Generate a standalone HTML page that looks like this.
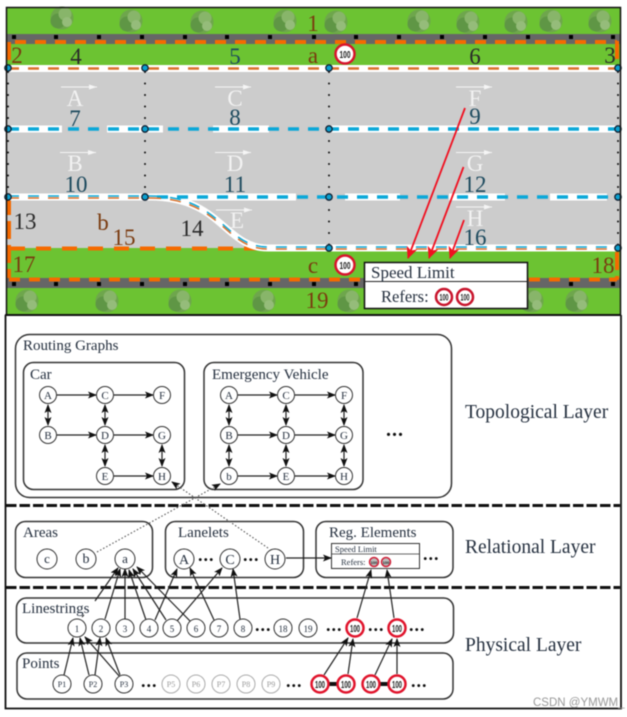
<!DOCTYPE html>
<html><head><meta charset="utf-8"><style>
html,body{margin:0;padding:0;background:#fff}
svg{display:block;filter:blur(.5px)}
text{font-family:"Liberation Serif",serif;fill:#25303f}
.n{font-size:11px;text-anchor:middle}
.e{stroke:#222;stroke-width:1.2;fill:none;marker-end:url(#a)}
.b{stroke:#222;stroke-width:1.2;fill:none;marker-end:url(#a);marker-start:url(#s)}
.box{fill:#fff;stroke:#333;stroke-width:1.5}
.c{fill:#fff;stroke:#333;stroke-width:1}
.big{font-size:23px;text-anchor:middle;fill:#2a2a2a}
.bl{fill:#1d4a5e}
.or{fill:#7a3b10}
.w{font-size:23px;text-anchor:middle;fill:#f2f2f2}
.wa{stroke:#f5f5f5;stroke-width:1;fill:#f5f5f5}
.sg{font-family:"Liberation Sans",sans-serif;font-weight:bold;text-anchor:middle;fill:#222}
.t{font-size:15px}
.l{font-size:19.500px}
.dots{font-size:18px;font-weight:bold;letter-spacing:1px;fill:#111}
</style></head><body>
<svg width="627" height="717" viewBox="0 0 627 717" xmlns="http://www.w3.org/2000/svg">
<defs>
<marker id="a" markerWidth="9" markerHeight="7" refX="8" refY="3.5" orient="auto" markerUnits="userSpaceOnUse"><path d="M0 0L9 3.5L0 7L2 3.5Z" fill="#111"/></marker>
<marker id="s" markerWidth="9" markerHeight="7" refX="1" refY="3.5" orient="auto" markerUnits="userSpaceOnUse"><path d="M9 0L0 3.5L9 7L7 3.5Z" fill="#111"/></marker>
<marker id="r" markerWidth="12" markerHeight="11" refX="11" refY="5.5" orient="auto" markerUnits="userSpaceOnUse"><path d="M0 0L12 5.5L0 11L3 5.5Z" fill="#f01020"/></marker>
<g id="t"><circle r="11.500" fill="#6ea64c"/><circle cx="-4" cy="3" r="7.500" fill="#5f9645"/><circle cx="3" cy="-4" r="6.500" fill="#88b56a"/><circle cx="5" cy="4" r="5" fill="#95bc7a"/></g>
</defs>
<rect width="627" height="717" fill="#fff"/>
<!-- map -->
<rect x="7" y="8" width="613" height="306" fill="#6cc332"/>
<rect x="7" y="34" width="613" height="10" fill="#666"/>
<rect x="7" y="278" width="613" height="10" fill="#666"/>
<rect x="7" y="66" width="613" height="182" fill="#ccc"/>
<rect x="7" y="248" width="613" height="30" fill="#6cc332"/>
<path d="M150 197H7V248H265C225 246 220 197 150 197Z" fill="#ccc"/>
<g fill="#000">
<g id="d1"><rect x="12" y="35" width="4" height="4"/><rect x="54" y="35" width="4" height="4"/><rect x="97" y="35" width="4" height="4"/><rect x="140" y="35" width="4" height="4"/><rect x="183" y="35" width="4" height="4"/><rect x="225" y="35" width="4" height="4"/><rect x="268" y="35" width="4" height="4"/><rect x="312" y="35" width="4" height="4"/><rect x="354" y="35" width="4" height="4"/><rect x="440" y="35" width="4" height="4"/><rect x="397" y="35" width="4" height="4"/><rect x="483" y="35" width="4" height="4"/><rect x="526" y="35" width="4" height="4"/><rect x="569" y="35" width="4" height="4"/><rect x="611" y="35" width="4" height="4"/></g>
<g transform="translate(0,247)"><rect x="12" y="35" width="4" height="4"/><rect x="54" y="35" width="4" height="4"/><rect x="97" y="35" width="4" height="4"/><rect x="140" y="35" width="4" height="4"/><rect x="183" y="35" width="4" height="4"/><rect x="225" y="35" width="4" height="4"/><rect x="268" y="35" width="4" height="4"/><rect x="312" y="35" width="4" height="4"/><rect x="354" y="35" width="4" height="4"/><rect x="569" y="35" width="4" height="4"/><rect x="611" y="35" width="4" height="4"/></g>
</g>
<!-- orange road edges -->
<path d="M9 42H617" stroke="#f56a00" stroke-width="4" stroke-dasharray="11 9" stroke-dashoffset="-6" fill="none"/>
<path d="M9 279.500H617" stroke="#f56a00" stroke-width="4" stroke-dasharray="11 9" fill="none"/>
<path d="M9 42V65M617 41V64M9 197V278M617 252V280" stroke="#f56a00" stroke-width="4" stroke-dasharray="18 6" fill="none"/>
<path d="M10 248.500H262" stroke="#f56a00" stroke-width="4" stroke-dasharray="15 11" fill="none"/>
<!-- white bands -->
<path d="M8 68.500H620" stroke="#fff" stroke-width="7"/>
<path d="M8 129H62M107 129H163M213 129H269M329 129H620" stroke="#fff" stroke-width="7"/>
<path d="M8 197H150M150 197H296M345 197H400M449 197H505M550 197H607" stroke="#fff" stroke-width="7"/>
<path d="M150 197C222 197 224 248 268 248H620" stroke="#fff" stroke-width="7" fill="none"/>
<path d="M8 68.500H620" stroke="#d9702a" stroke-width="2.500" stroke-dasharray="11 9" fill="none"/>
<path d="M8 129H620" stroke="#0aa8d8" stroke-width="3.500" stroke-dasharray="11 9" fill="none"/>
<path d="M150 197H620" stroke="#0aa8d8" stroke-width="3.500" stroke-dasharray="11 9" stroke-dashoffset="-7" fill="none"/>
<path d="M8 196H150" stroke="#0aa8d8" stroke-width="1.500" stroke-dasharray="11 9" fill="none"/>
<path d="M8 198H150" stroke="#d9702a" stroke-width="1.500" stroke-dasharray="11 9" fill="none"/>
<path d="M150 196C222 196 224 247 268 247H620" stroke="#0aa8d8" stroke-width="1.500" stroke-dasharray="11 9" fill="none"/>
<path d="M150 198C222 198 224 249 268 249H620" stroke="#d9702a" stroke-width="1.500" stroke-dasharray="11 9" fill="none"/>
<!-- dotted -->
<path d="M8 72V197M145 72V197M329 72V248M618 72V248" stroke="#111" stroke-width="2" stroke-linecap="round" stroke-dasharray="0 11.500" fill="none"/>
<!-- nodes -->
<g fill="#0aa0d0" stroke="#123" stroke-width="1.300">
<circle cx="8" cy="68" r="3.200"/><circle cx="145" cy="68" r="3.200"/><circle cx="329" cy="68" r="3.200"/><circle cx="618" cy="68" r="3.200"/>
<circle cx="8" cy="129" r="3.200"/><circle cx="145" cy="129" r="3.200"/><circle cx="329" cy="129" r="3.200"/><circle cx="618" cy="129" r="3.200"/>
<circle cx="8" cy="197" r="3.200"/><circle cx="145" cy="197" r="3.200"/><circle cx="329" cy="197" r="3.200"/><circle cx="618" cy="197" r="3.200"/>
<circle cx="329" cy="248" r="3.200"/><circle cx="618" cy="248" r="3.200"/>
</g>
<!-- trees -->
<use href="#t" x="62" y="18"/><use href="#t" x="131" y="21"/><use href="#t" x="202" y="22"/><use href="#t" x="285" y="21"/><use href="#t" x="336" y="22"/><use href="#t" x="419" y="21"/><use href="#t" x="468" y="22"/><use href="#t" x="516" y="22"/><use href="#t" x="551" y="21"/><use href="#t" x="600" y="21"/>
<use href="#t" x="27" y="301"/><use href="#t" x="107" y="301"/><use href="#t" x="180" y="301"/><use href="#t" x="264" y="301"/><use href="#t" x="349" y="301"/><use href="#t" x="532" y="301"/><use href="#t" x="577" y="301"/>
<!-- frame -->
<path d="M6.500 315V7.500H620.500V315" fill="none" stroke="#111" stroke-width="1.500"/>
<path d="M5 315H621" stroke="#111" stroke-width="2"/>
<!-- lane arrows + letters -->
<g class="wa"><path d="M61 87H97M215 87H251M456 87H492M60 152.500H96M215 152.500H251M456 152.500H492M216 210H252M456 207H492" fill="none"/>
<path d="M97 87l-8-2.500v5zM251 87l-8-2.500v5zM492 87l-8-2.500v5zM96 152.500l-8-2.500v5zM251 152.500l-8-2.500v5zM492 152.500l-8-2.500v5zM252 210l-8-2.500v5zM492 207l-8-2.500v5z" stroke="none"/></g>
<text class="w" x="75" y="106">A</text><text class="w" x="235" y="106">C</text><text class="w" x="475" y="106">F</text>
<text class="w" x="75" y="171">B</text><text class="w" x="235" y="171">D</text><text class="w" x="475" y="171">G</text>
<text class="w" x="237" y="228">E</text><text class="w" x="475" y="226">H</text>
<!-- numbers -->
<g>
<text class="big or" x="313" y="31">1</text><text class="big or" x="17" y="63">2</text><text class="big" x="76" y="64">4</text><text class="big bl" x="235" y="64">5</text><text class="big or" x="313" y="63">a</text><text class="big" x="475" y="64">6</text><text class="big" x="610" y="63">3</text>
<text class="big bl" x="75" y="126">7</text><text class="big bl" x="235" y="125">8</text><text class="big bl" x="475" y="124">9</text>
<text class="big bl" x="76" y="192">10</text><text class="big bl" x="235" y="192">11</text><text class="big bl" x="475" y="192">12</text>
<text class="big" x="25" y="229">13</text><text class="big" x="192" y="236">14</text><text class="big or" x="124" y="245">15</text><text class="big or" x="103" y="230">b</text><text class="big bl" x="475" y="245">16</text>
<text class="big or" x="24" y="272">17</text><text class="big or" x="603" y="273">18</text><text class="big or" x="313" y="273">c</text><text class="big or" x="317" y="308">19</text>
</g>
<!-- signs on map -->
<g><circle cx="345" cy="54" r="9.500" fill="#fff" stroke="#d8142c" stroke-width="2.500"/><text class="sg" x="345" y="58" font-size="10" textLength="11" lengthAdjust="spacingAndGlyphs">100</text>
<circle cx="345" cy="265" r="9.500" fill="#fff" stroke="#d8142c" stroke-width="2.500"/><text class="sg" x="345" y="269" font-size="10" textLength="11" lengthAdjust="spacingAndGlyphs">100</text></g>
<!-- callout -->
<rect x="364.500" y="262.500" width="163" height="46" fill="#fff" stroke="#111" stroke-width="1.500"/>
<path d="M364 281.500H528" stroke="#222" stroke-width="1"/>
<text x="371" y="278" font-size="17" fill="#334">Speed Limit</text>
<text x="381" y="302" font-size="16.500" fill="#334">Refers:</text>
<circle cx="444" cy="297" r="8" fill="#fff" stroke="#c8142c" stroke-width="2.500"/><text class="sg" x="444" y="300.500" font-size="9" textLength="9" lengthAdjust="spacingAndGlyphs">100</text>
<circle cx="465" cy="297" r="8" fill="#fff" stroke="#c8142c" stroke-width="2.500"/><text class="sg" x="465" y="300.500" font-size="9" textLength="9" lengthAdjust="spacingAndGlyphs">100</text>
<g stroke="#f01020" stroke-width="1.800" fill="none"><path d="M465 108L408 258" marker-end="url(#r)"/><path d="M463.500 167L429 258" marker-end="url(#r)"/><path d="M464 220L450 258" marker-end="url(#r)"/></g>

<!-- lower frame -->
<path d="M5.500 315V708.500H621V315" fill="none" stroke="#111" stroke-width="1.800"/>
<path d="M6 505.500H620M6 587.500H620" stroke="#111" stroke-width="3" stroke-dasharray="10.500 3" fill="none"/>
<rect x="15.500" y="334.500" width="436" height="163" rx="14" class="box"/>
<rect x="23.500" y="362.500" width="161" height="127" rx="10" class="box"/>
<rect x="204" y="362.500" width="159" height="127" rx="10" class="box"/>
<text x="23" y="350" class="t">Routing Graphs</text>
<text x="30" y="379" class="t">Car</text>
<text x="212" y="379" class="t">Emergency Vehicle</text>
<text x="386" y="436" class="dots" style="font-size:20px">...</text>
<!-- car graph -->
<path class="e" d="M57 395H96"/><path class="e" d="M114 395H153"/><path class="e" d="M57 435H96"/><path class="e" d="M114 435H153"/><path class="e" d="M114 476H153"/>
<path class="b" d="M48 405V425"/><path class="b" d="M105 405V425"/><path class="b" d="M105 445V466"/><path class="b" d="M162 445V466"/>
<!-- ev graph -->
<path class="e" d="M238 395H277"/><path class="e" d="M295 395H335"/><path class="e" d="M238 435H277"/><path class="e" d="M295 435H335"/><path class="e" d="M238 476H277"/><path class="e" d="M295 476H335"/>
<path class="b" d="M229 405V425"/><path class="b" d="M229 445V466"/><path class="b" d="M286 405V425"/><path class="b" d="M286 445V466"/><path class="b" d="M344 405V425"/><path class="b" d="M344 445V466"/>
<g>
<circle class="c" cx="48" cy="395" r="8.500"/><circle class="c" cx="105" cy="395" r="8.500"/><circle class="c" cx="162" cy="395" r="8.500"/><circle class="c" cx="48" cy="435" r="8.500"/><circle class="c" cx="105" cy="435" r="8.500"/><circle class="c" cx="162" cy="435" r="8.500"/><circle class="c" cx="105" cy="476" r="8.500"/><circle class="c" cx="162" cy="476" r="8.500"/>
<circle class="c" cx="229" cy="395" r="8.500"/><circle class="c" cx="286" cy="395" r="8.500"/><circle class="c" cx="344" cy="395" r="8.500"/><circle class="c" cx="229" cy="435" r="8.500"/><circle class="c" cx="286" cy="435" r="8.500"/><circle class="c" cx="344" cy="435" r="8.500"/><circle class="c" cx="229" cy="476" r="8.500"/><circle class="c" cx="286" cy="476" r="8.500"/><circle class="c" cx="344" cy="476" r="8.500"/>
</g>
<g>
<text class="n" x="48" y="399">A</text><text class="n" x="105" y="399">C</text><text class="n" x="162" y="399">F</text><text class="n" x="48" y="439">B</text><text class="n" x="105" y="439">D</text><text class="n" x="162" y="439">G</text><text class="n" x="105" y="480">E</text><text class="n" x="162" y="480">H</text>
<text class="n" x="229" y="399">A</text><text class="n" x="286" y="399">C</text><text class="n" x="344" y="399">F</text><text class="n" x="229" y="439">B</text><text class="n" x="286" y="439">D</text><text class="n" x="344" y="439">G</text><text class="n" x="229" y="480">b</text><text class="n" x="286" y="480">E</text><text class="n" x="344" y="480">H</text>
</g>
<!-- relational -->
<rect x="15.500" y="521.500" width="137" height="56" rx="10" class="box"/>
<rect x="165.500" y="521.500" width="138" height="56" rx="10" class="box"/>
<rect x="316" y="521.500" width="137" height="56" rx="10" class="box"/>
<text x="23" y="537" class="t">Areas</text><text x="178" y="537" class="t">Lanelets</text><text x="329" y="537" class="t">Reg. Elements</text>
<!-- physical -->
<rect x="16.500" y="598" width="437" height="45" rx="10" class="box"/>
<rect x="17" y="653" width="436" height="46" rx="10" class="box"/>
<text x="22" y="613" class="t">Linestrings</text><text x="22" y="668" class="t">Points</text>
<!-- dotted cross -->
<g fill="none" stroke="#555" stroke-width="1.100" stroke-dasharray="1.500 2">
<path d="M97 552L220 484" marker-end="url(#a)"/><path d="M268 548L172 482" marker-end="url(#a)"/></g>
<!-- arrows -->
<g>
<path class="e" d="M95 601L118 568"/><path d="M82 617L84 615" stroke="#222" stroke-width="1"/>
<path class="e" d="M105 619L120 569"/><path class="e" d="M125 619V569"/><path class="e" d="M146 620L129 570"/><path class="e" d="M166 620L133 569"/><path class="e" d="M190 621L137 567"/>
<path class="e" d="M155 620L177 569"/><path class="e" d="M177 621L222 568"/><path class="e" d="M214 620L190 568"/><path class="e" d="M240 619L233 569"/>
<path class="e" d="M64 675L73 638"/><path class="e" d="M89 675L80 638"/><path class="e" d="M95 675L100 638"/><path class="e" d="M120 677L85 637"/><path class="e" d="M120 675L106 638"/>
<path class="e" d="M357 618L371 570"/><path class="e" d="M394 618L387 570"/>
<path class="e" d="M324 675L348 638"/><path class="e" d="M348 674L353 639"/><path class="e" d="M375 675L392 639"/><path class="e" d="M397 674V639"/>
<path class="e" d="M286 558H331"/>
</g>
<!-- rel nodes -->
<g>
<circle class="c" cx="47" cy="559" r="10"/><circle class="c" cx="86" cy="559" r="10"/><circle class="c" cx="125" cy="559" r="10"/><circle class="c" cx="184" cy="559" r="10"/><circle class="c" cx="230" cy="559" r="10"/><circle class="c" cx="275" cy="559" r="10"/>
<text class="n" x="47" y="563" style="font-size:13px">c</text><text class="n" x="86" y="563" style="font-size:14px">b</text><text class="n" x="125" y="563" style="font-size:13px">a</text><text class="n" x="184" y="564" style="font-size:14px">A</text><text class="n" x="230" y="564" style="font-size:14px">C</text><text class="n" x="275" y="564" style="font-size:14px">H</text>
</g>
<text x="198" y="561" class="dots">...</text><text x="243" y="561" class="dots">...</text>
<!-- inner reg box -->
<rect x="331.500" y="543.500" width="88" height="25" fill="#fff" stroke="#333" stroke-width="1"/>
<path d="M331 554H420" stroke="#333" stroke-width=".8"/>
<text x="335" y="552" font-size="8.500" fill="#556">Speed Limit</text><text x="341" y="565" font-size="8.500" fill="#556">Refers:</text>
<circle cx="374" cy="562" r="4.500" fill="#bbb" stroke="#d02038" stroke-width="1.500"/><text class="sg" x="374" y="564" font-size="4">100</text>
<circle cx="386" cy="562" r="4.500" fill="#bbb" stroke="#d02038" stroke-width="1.500"/><text class="sg" x="386" y="564" font-size="4">100</text>
<text x="423" y="560" class="dots">...</text>
<!-- linestring nodes -->
<g>
<circle class="c" cx="77" cy="628" r="9"/><circle class="c" cx="101" cy="628" r="9"/><circle class="c" cx="125" cy="628" r="9"/><circle class="c" cx="149" cy="628" r="9"/><circle class="c" cx="172" cy="628" r="9"/><circle class="c" cx="196" cy="628" r="9"/><circle class="c" cx="219" cy="628" r="9"/><circle class="c" cx="243" cy="628" r="9"/><circle class="c" cx="283" cy="628" r="9"/><circle class="c" cx="308" cy="628" r="9"/>
<text class="n" x="77" y="632" style="font-size:9px">1</text><text class="n" x="101" y="632" style="font-size:9px">2</text><text class="n" x="125" y="632" style="font-size:9px">3</text><text class="n" x="149" y="632" style="font-size:9px">4</text><text class="n" x="172" y="632" style="font-size:9px">5</text><text class="n" x="196" y="632" style="font-size:9px">6</text><text class="n" x="219" y="632" style="font-size:9px">7</text><text class="n" x="243" y="632" style="font-size:9px">8</text><text class="n" x="283" y="632" style="font-size:9px">18</text><text class="n" x="308" y="632" style="font-size:9px">19</text>
</g>
<text x="255" y="631" class="dots">...</text><text x="326" y="631" class="dots">...</text><text x="368" y="631" class="dots">...</text><text x="409" y="631" class="dots">...</text>
<g>
<circle cx="355" cy="628" r="8.500" fill="#fff" stroke="#e0142c" stroke-width="2.500"/><text class="sg" x="355" y="632" font-size="10" textLength="10" lengthAdjust="spacingAndGlyphs">100</text>
<circle cx="397" cy="628" r="8.500" fill="#fff" stroke="#e0142c" stroke-width="2.500"/><text class="sg" x="397" y="632" font-size="10" textLength="10" lengthAdjust="spacingAndGlyphs">100</text>
</g>
<!-- point nodes -->
<g>
<circle class="c" cx="62" cy="684" r="9"/><circle class="c" cx="93" cy="684" r="9"/><circle class="c" cx="124" cy="684" r="9"/>
<text class="n" x="62" y="687" style="font-size:8px">P1</text><text class="n" x="93" y="687" style="font-size:8px">P2</text><text class="n" x="124" y="687" style="font-size:8px">P3</text>
<g fill="#fff" stroke="#aaa" stroke-width="1"><circle cx="171" cy="684" r="9"/><circle cx="196" cy="684" r="9"/><circle cx="221" cy="684" r="9"/><circle cx="246" cy="684" r="9"/><circle cx="271" cy="684" r="9"/></g>
<g><text class="n" x="171" y="687" style="font-size:8px;fill:#999">P5</text><text class="n" x="196" y="687" style="font-size:8px;fill:#999">P6</text><text class="n" x="221" y="687" style="font-size:8px;fill:#999">P7</text><text class="n" x="246" y="687" style="font-size:8px;fill:#999">P8</text><text class="n" x="271" y="687" style="font-size:8px;fill:#999">P9</text></g>
</g>
<text x="141" y="687" class="dots">...</text><text x="286" y="687" class="dots">...</text><text x="411" y="687" class="dots">...</text>
<path d="M330 684H336M381 684H387" stroke="#111" stroke-width="4" stroke-linecap="round"/>
<g>
<circle cx="320" cy="684" r="8.500" fill="#fff" stroke="#e0142c" stroke-width="2.500"/><text class="sg" x="320" y="688" font-size="10" textLength="10" lengthAdjust="spacingAndGlyphs">100</text>
<circle cx="346" cy="684" r="8.500" fill="#fff" stroke="#e0142c" stroke-width="2.500"/><text class="sg" x="346" y="688" font-size="10" textLength="10" lengthAdjust="spacingAndGlyphs">100</text>
<circle cx="371" cy="684" r="8.500" fill="#fff" stroke="#e0142c" stroke-width="2.500"/><text class="sg" x="371" y="688" font-size="10" textLength="10" lengthAdjust="spacingAndGlyphs">100</text>
<circle cx="397" cy="684" r="8.500" fill="#fff" stroke="#e0142c" stroke-width="2.500"/><text class="sg" x="397" y="688" font-size="10" textLength="10" lengthAdjust="spacingAndGlyphs">100</text>
</g>
<!-- layer labels -->
<text x="465" y="418" class="l">Topological Layer</text>
<text x="465" y="553" class="l">Relational Layer</text>
<text x="465" y="651" class="l">Physical Layer</text>
<text x="533" y="706" font-size="11.500" style="font-family:'Liberation Sans',sans-serif;fill:#999">CSDN @YMWM_</text>
</svg>
</body></html>
